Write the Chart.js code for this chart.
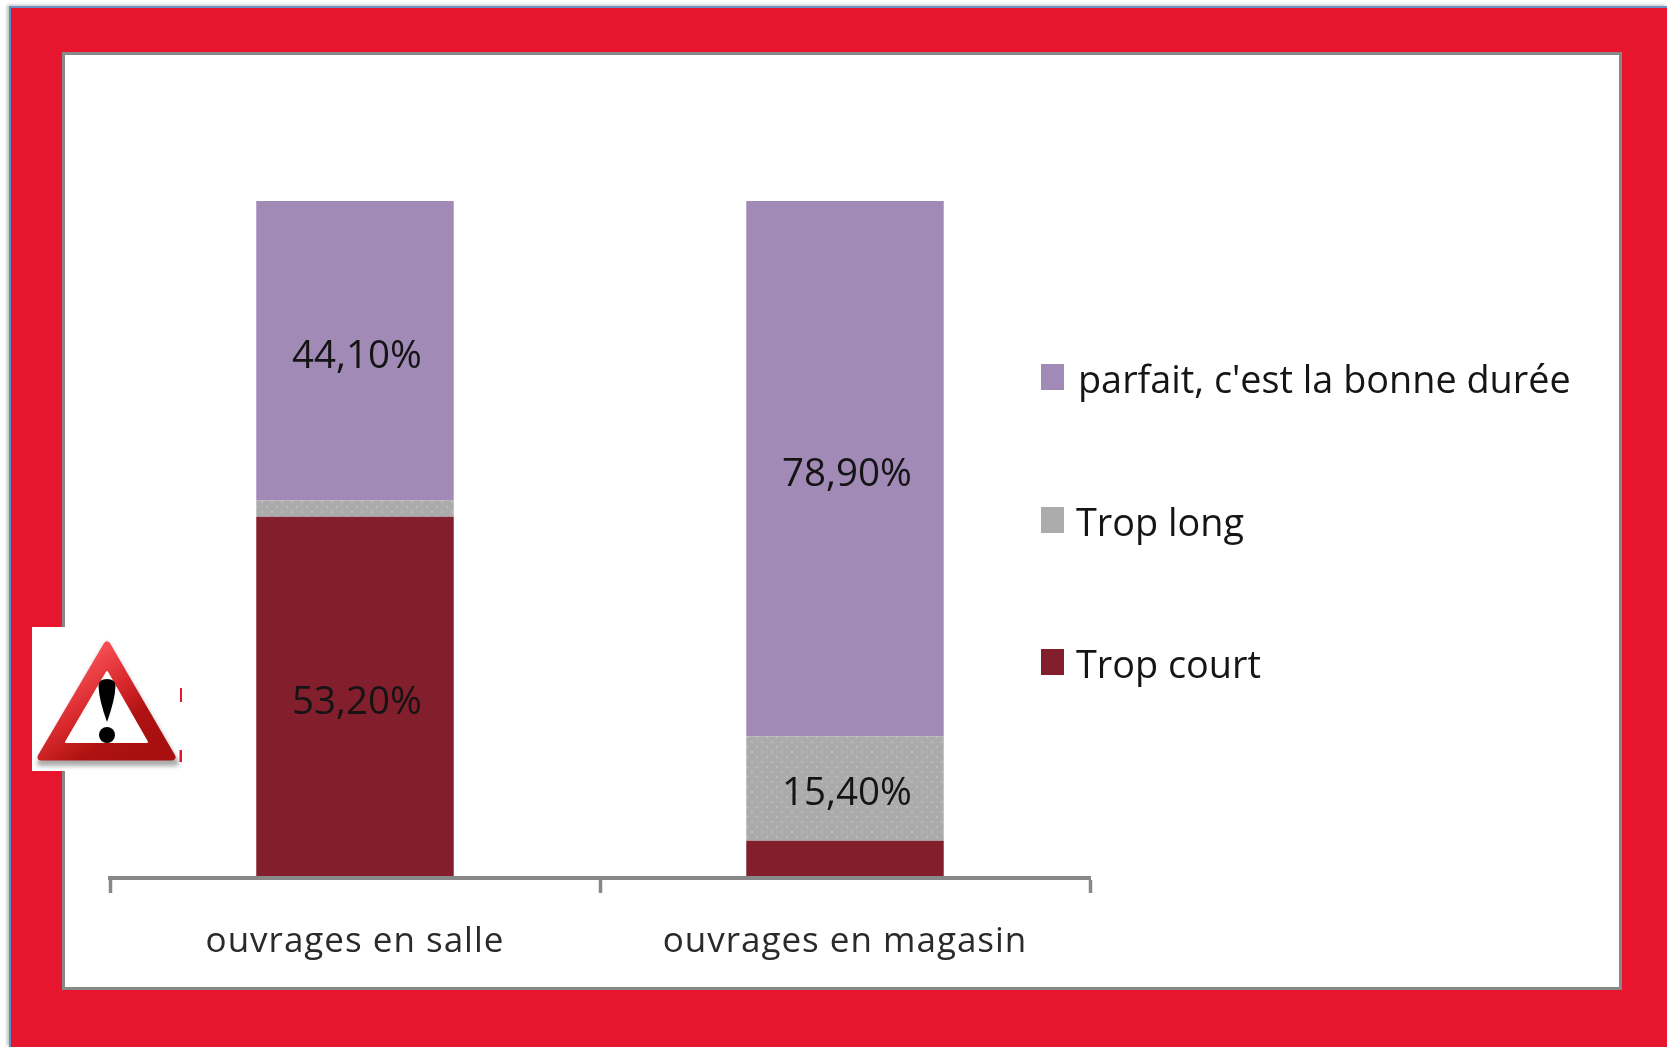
<!DOCTYPE html>
<html lang="fr"><head><meta charset="utf-8">
<style>
html,body{margin:0;padding:0;width:1667px;height:1047px;overflow:hidden;background:#fff}
#frame{position:absolute;left:9px;top:6px;right:0;bottom:0;background:#e8152f;border-left:2.5px solid #5a8fc8;border-top:2px solid #6a93c4;box-shadow:-2px -1px 3px rgba(0,0,0,.25)}
#panel{position:absolute;left:62px;top:52px;width:1554px;height:932px;background:#fff;border:3px solid #888}
canvas{position:absolute;left:0;top:0}
#legend{position:absolute;left:0;top:0;font-family:"Open Sans",sans-serif;color:#151515}
.sw{position:absolute;width:23px;height:26px}
.lt{position:absolute;white-space:nowrap;line-height:1}
#warn{position:absolute;left:32px;top:627px;width:150px;height:144px}
</style></head><body>
<div id="frame"></div><div id="panel"></div>
<canvas id="c" width="1667" height="1047"></canvas>
<div id="legend"></div>
<svg id="warn" viewBox="32 627 150 144" xmlns="http://www.w3.org/2000/svg">
<defs>
<linearGradient id="g" x1="0.2" y1="0.1" x2="0.85" y2="0.85"><stop offset="0" stop-color="#ff5a5f"/><stop offset=".45" stop-color="#d92a2e"/><stop offset=".75" stop-color="#b01212"/><stop offset="1" stop-color="#a81010"/></linearGradient>
<filter id="s" x="-10%" y="-10%" width="125%" height="125%"><feGaussianBlur stdDeviation="2"/></filter>
</defs>
<rect x="32" y="627" width="150" height="144" fill="#fff"/>
<path d="M107 646 L176 763 L40 763 Z" fill="#666" opacity=".55" stroke="#666" stroke-width="6" stroke-linejoin="round" filter="url(#s)"/>
<path d="M107 645 L172 757 L41 757 Z" fill="url(#g)" stroke="url(#g)" stroke-width="7" stroke-linejoin="round"/>
<path d="M107 672 L147 742 L66 742 Z" fill="#fff" stroke="#fff" stroke-width="2" stroke-linejoin="round"/>
<path d="M98.500 686 Q98.500 679 107 679 Q115.500 679 115.500 686 Q115 700 107 722 Q99 700 98.500 686 Z" fill="#000"/>
<circle cx="107" cy="735" r="8" fill="#000"/>
<rect x="180" y="688" width="2" height="14" fill="#e8152f"/><rect x="179.500" y="750" width="2.500" height="12" fill="#e8152f"/>
</svg>
<script src="https://cdn.jsdelivr.net/npm/chart.js@4/dist/chart.umd.min.js"></script>
<script>
const categories = ["ouvrages en salle", "ouvrages en magasin"];
const tropCourt = [53.2, 5.5];
const tropLong = [2.4, 15.4];
const parfait = [44.1, 78.9];
const seriesNames = ["Trop court", "Trop long", "parfait, c'est la bonne durée"];
const seriesColors = ["#831f2d", "#ababab", "#a18ab6"];

const totals = categories.map((_, i) => tropCourt[i] + tropLong[i] + parfait[i]);
const share = arr => arr.map((v, i) => v / totals[i] * 100);

const pc = document.createElement('canvas'); pc.width = 10; pc.height = 10;
const px = pc.getContext('2d');
px.fillStyle = seriesColors[1]; px.fillRect(0, 0, 10, 10);
px.fillStyle = '#bbbbbb'; px.fillRect(1, 1, 2, 2); px.fillRect(6, 6, 2, 2);
const greyPattern = px.createPattern(pc, 'repeat');

const rawValues = [tropCourt, tropLong, parfait];

const textSpacing = {
  id: 'textSpacing',
  beforeDraw(chart) { chart.ctx.letterSpacing = '1px'; }
};

const segmentLabels = {
  id: 'segmentLabels',
  afterDatasetsDraw(chart) {
    const ctx = chart.ctx;
    ctx.save();
    ctx.letterSpacing = '0px';
    ctx.font = '38.5px "Open Sans", sans-serif';
    ctx.fillStyle = '#141414';
    ctx.textAlign = 'center';
    ctx.textBaseline = 'middle';
    rawValues.forEach((arr, d) => {
      const meta = chart.getDatasetMeta(d);
      arr.forEach((v, i) => {
        if (v < 10) return;
        const el = meta.data[i];
        ctx.fillText(v.toFixed(2).replace('.', ',') + '%', el.x + 2, (el.y + el.base) / 2 + 6);
      });
    });
    ctx.restore();
  }
};

new Chart(document.getElementById('c'), {
  type: 'bar',
  data: {
    labels: categories,
    datasets: [
      { label: seriesNames[0], data: share(tropCourt), backgroundColor: seriesColors[0] },
      { label: seriesNames[1], data: share(tropLong), backgroundColor: greyPattern },
      { label: seriesNames[2], data: share(parfait), backgroundColor: seriesColors[2] }
    ]
  },
  options: {
    responsive: false,
    animation: false,
    events: [],
    layout: { padding: { left: 110, right: 577, top: 201, bottom: 69 } },
    datasets: { bar: { categoryPercentage: 1, barPercentage: 0.403, borderWidth: 0 } },
    plugins: { legend: { display: false }, tooltip: { enabled: false } },
    scales: {
      x: {
        stacked: true,
        afterFit(s) { s.height = 100; },
        border: { display: true, color: '#888', width: 4, z: 1 },
        grid: { offset: true, drawOnChartArea: false, drawTicks: true, tickLength: 15, tickWidth: 3.5, tickColor: '#888' },
        ticks: { color: '#2a2a2a', padding: 28, maxRotation: 0, font: { family: '"Open Sans", sans-serif', size: 35 } }
      },
      y: { stacked: true, display: false, min: 0, max: 100 }
    }
  },
  plugins: [textSpacing, segmentLabels]
});

const legendRows = [
  { i: 2, swatchTop: 364, textLeft: 1078, textTop: 360 },
  { i: 1, swatchTop: 507, textLeft: 1076, textTop: 503 },
  { i: 0, swatchTop: 649, textLeft: 1076, textTop: 645 }
];
const leg = document.getElementById('legend');
legendRows.forEach(r => {
  const s = document.createElement('div'); s.className = 'sw';
  s.style.cssText = `left:1041px;top:${r.swatchTop}px;background:${seriesColors[r.i]}`;
  const t = document.createElement('div'); t.className = 'lt';
  t.textContent = seriesNames[r.i];
  t.style.cssText = `left:${r.textLeft}px;top:${r.textTop}px;font-size:37.8px`;
  leg.append(s, t);
});
</script>
</body></html>
